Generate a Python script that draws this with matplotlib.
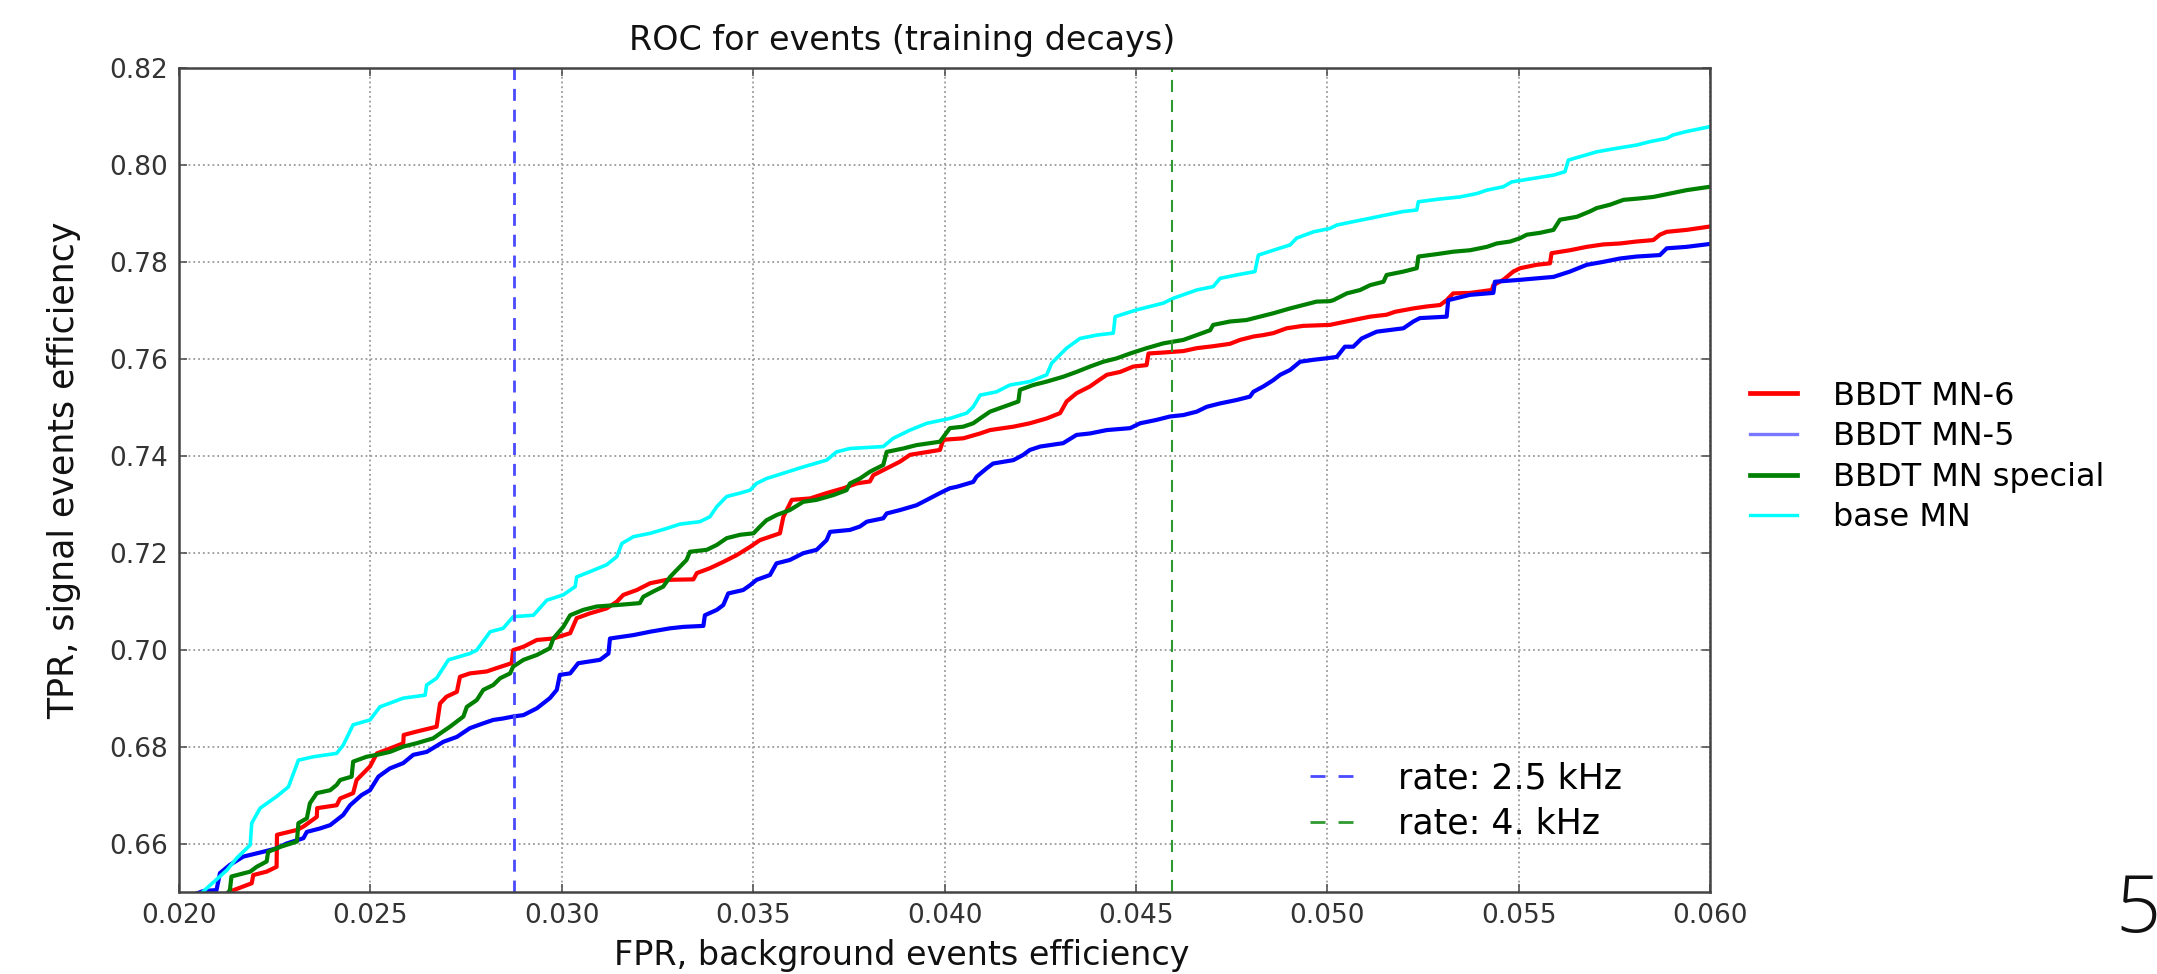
import numpy as np
import matplotlib
matplotlib.use('Agg')
import matplotlib.pyplot as plt
from matplotlib import font_manager
from matplotlib.lines import Line2D

# ROC points (FPR, TPR)
bbdt_mn6 = [(0.0211, 0.6490), (0.02133, 0.6501), (0.02190, 0.6518), (0.02194, 0.6535), (0.02229, 0.6542),
            (0.02255, 0.6552), (0.02256, 0.6618), (0.02308, 0.6628), (0.02325, 0.6635), (0.02360, 0.6655),
            (0.02361, 0.6673), (0.02412, 0.6679), (0.02421, 0.6693), (0.02455, 0.6704), (0.02464, 0.6731),
            (0.02499, 0.6759), (0.02517, 0.6786), (0.02551, 0.6796), (0.02586, 0.6807), (0.02587, 0.6824),
            (0.02621, 0.6831), (0.02673, 0.6841), (0.02682, 0.6889), (0.02699, 0.6903), (0.02726, 0.6913),
            (0.02734, 0.6944), (0.02760, 0.6951), (0.02804, 0.6955), (0.02830, 0.6962), (0.02869, 0.6972),
            (0.02873, 0.6999), (0.02900, 0.7006), (0.02935, 0.7020), (0.02978, 0.7023), (0.03022, 0.7034),
            (0.03039, 0.7065), (0.03074, 0.7075), (0.03117, 0.7085), (0.03144, 0.7099), (0.03161, 0.7113),
            (0.03196, 0.7123), (0.03231, 0.7137), (0.03274, 0.7144), (0.03344, 0.7145), (0.03353, 0.7158),
            (0.03387, 0.7168), (0.03422, 0.7181), (0.03457, 0.7195), (0.03492, 0.7212), (0.03518, 0.7226),
            (0.03570, 0.7240), (0.03579, 0.7274), (0.03601, 0.7309), (0.03649, 0.7312), (0.03692, 0.7323),
            (0.03736, 0.7333), (0.03771, 0.7343), (0.03805, 0.7347), (0.03814, 0.7360), (0.03849, 0.7374),
            (0.03884, 0.7388), (0.03910, 0.7402), (0.03988, 0.7412), (0.03997, 0.7433), (0.04049, 0.7436),
            (0.04093, 0.7446), (0.04119, 0.7453), (0.04180, 0.7460), (0.04223, 0.7467), (0.04267, 0.7477),
            (0.04302, 0.7488), (0.04319, 0.7512), (0.04345, 0.7529), (0.04380, 0.7543), (0.04398, 0.7553),
            (0.04424, 0.7567), (0.04459, 0.7573), (0.04493, 0.7584), (0.04528, 0.7587), (0.04533, 0.7611),
            (0.04572, 0.7613), (0.04624, 0.7616), (0.04659, 0.7622), (0.04702, 0.7626), (0.04746, 0.7631),
            (0.04772, 0.7639), (0.04807, 0.7646), (0.04833, 0.7649), (0.04859, 0.7653), (0.04894, 0.7663),
            (0.04937, 0.7668), (0.05007, 0.7670), (0.05025, 0.7673), (0.05068, 0.7680), (0.05112, 0.7687),
            (0.05155, 0.7691), (0.05177, 0.7697), (0.05225, 0.7704), (0.05260, 0.7708), (0.05295, 0.7711),
            (0.05312, 0.7721), (0.05329, 0.7735), (0.05373, 0.7736), (0.05430, 0.7742), (0.05434, 0.7752),
            (0.05460, 0.7763), (0.05486, 0.7780), (0.05504, 0.7787), (0.05547, 0.7794), (0.05582, 0.7797),
            (0.05586, 0.7818), (0.05634, 0.7824), (0.05678, 0.7831), (0.05721, 0.7836), (0.05765, 0.7838),
            (0.05808, 0.7842), (0.05852, 0.7845), (0.05869, 0.7856), (0.05887, 0.7862), (0.05939, 0.7866),
            (0.06000, 0.7873)]

bbdt_mn5 = [(0.0204, 0.6495), (0.02063, 0.6502), (0.02098, 0.6504), (0.02107, 0.6539), (0.02133, 0.6556),
            (0.02168, 0.6573), (0.02220, 0.6583), (0.02255, 0.6590), (0.02281, 0.6600), (0.02325, 0.6611),
            (0.02334, 0.6624), (0.02368, 0.6631), (0.02395, 0.6638), (0.02429, 0.6659), (0.02447, 0.6679),
            (0.02477, 0.6700), (0.02499, 0.6710), (0.02521, 0.6738), (0.02551, 0.6755), (0.02586, 0.6766),
            (0.02612, 0.6783), (0.02647, 0.6789), (0.02691, 0.6810), (0.02726, 0.6820), (0.02760, 0.6838),
            (0.02795, 0.6848), (0.02821, 0.6855), (0.02847, 0.6858), (0.02873, 0.6862), (0.02900, 0.6865),
            (0.02935, 0.6879), (0.02969, 0.6900), (0.02987, 0.6917), (0.02995, 0.6948), (0.03022, 0.6951),
            (0.03043, 0.6972), (0.03100, 0.6979), (0.03122, 0.6992), (0.03126, 0.7023), (0.03187, 0.7030),
            (0.03231, 0.7037), (0.03283, 0.7044), (0.03318, 0.7047), (0.03370, 0.7049), (0.03374, 0.7071),
            (0.03405, 0.7082), (0.03422, 0.7092), (0.03435, 0.7116), (0.03474, 0.7123), (0.03492, 0.7133),
            (0.03509, 0.7144), (0.03544, 0.7154), (0.03561, 0.7178), (0.03596, 0.7185), (0.03631, 0.7199),
            (0.03666, 0.7206), (0.03692, 0.7226), (0.03701, 0.7243), (0.03753, 0.7247), (0.03779, 0.7254),
            (0.03797, 0.7264), (0.03840, 0.7271), (0.03849, 0.7281), (0.03884, 0.7288), (0.03927, 0.7298),
            (0.03954, 0.7309), (0.03988, 0.7323), (0.04014, 0.7333), (0.04032, 0.7336), (0.04075, 0.7346),
            (0.04084, 0.7357), (0.04110, 0.7374), (0.04127, 0.7384), (0.04180, 0.7391), (0.04206, 0.7402),
            (0.04223, 0.7412), (0.04250, 0.7419), (0.04310, 0.7426), (0.04345, 0.7443), (0.04380, 0.7446),
            (0.04424, 0.7453), (0.04485, 0.7457), (0.04511, 0.7467), (0.04554, 0.7474), (0.04589, 0.7481),
            (0.04624, 0.7484), (0.04659, 0.7491), (0.04685, 0.7501), (0.04720, 0.7508), (0.04763, 0.7515),
            (0.04798, 0.7522), (0.04807, 0.7532), (0.04833, 0.7543), (0.04859, 0.7556), (0.04877, 0.7567),
            (0.04903, 0.7577), (0.04929, 0.7594), (0.04964, 0.7598), (0.05007, 0.7602), (0.05025, 0.7604),
            (0.05046, 0.7625), (0.05068, 0.7625), (0.05090, 0.7642), (0.05129, 0.7656), (0.05199, 0.7663),
            (0.05225, 0.7677), (0.05242, 0.7684), (0.05312, 0.7687), (0.05316, 0.7721), (0.05373, 0.7732),
            (0.05434, 0.7736), (0.05438, 0.7759), (0.05504, 0.7763), (0.05547, 0.7766), (0.05591, 0.7769),
            (0.05634, 0.7780), (0.05678, 0.7794), (0.05721, 0.7800), (0.05765, 0.7807), (0.05808, 0.7811),
            (0.05869, 0.7814), (0.05887, 0.7828), (0.05939, 0.7831), (0.06000, 0.7837)]

bbdt_mn_special = [(0.0212, 0.6490), (0.02133, 0.6504), (0.02137, 0.6532), (0.02186, 0.6542), (0.02203, 0.6552),
                   (0.02229, 0.6563), (0.02233, 0.6583), (0.02264, 0.6593), (0.02308, 0.6604), (0.02312, 0.6642),
                   (0.02334, 0.6652), (0.02342, 0.6683), (0.02360, 0.6704), (0.02395, 0.6710), (0.02412, 0.6721),
                   (0.02421, 0.6731), (0.02451, 0.6738), (0.02455, 0.6769), (0.02490, 0.6779), (0.02517, 0.6783),
                   (0.02551, 0.6789), (0.02586, 0.6800), (0.02621, 0.6807), (0.02664, 0.6817), (0.02682, 0.6827),
                   (0.02708, 0.6841), (0.02743, 0.6862), (0.02752, 0.6882), (0.02778, 0.6896), (0.02795, 0.6917),
                   (0.02821, 0.6927), (0.02839, 0.6941), (0.02865, 0.6951), (0.02873, 0.6965), (0.02900, 0.6979),
                   (0.02935, 0.6989), (0.02969, 0.7003), (0.02978, 0.7023), (0.03004, 0.7047), (0.03022, 0.7071),
                   (0.03056, 0.7082), (0.03091, 0.7089), (0.03144, 0.7092), (0.03204, 0.7096), (0.03213, 0.7109),
                   (0.03239, 0.7120), (0.03265, 0.7130), (0.03283, 0.7150), (0.03300, 0.7164), (0.03326, 0.7185),
                   (0.03335, 0.7202), (0.03379, 0.7206), (0.03405, 0.7216), (0.03431, 0.7230), (0.03466, 0.7237),
                   (0.03501, 0.7240), (0.03518, 0.7254), (0.03535, 0.7267), (0.03562, 0.7278), (0.03596, 0.7288),
                   (0.03631, 0.7305), (0.03666, 0.7309), (0.03710, 0.7319), (0.03744, 0.7329), (0.03753, 0.7343),
                   (0.03779, 0.7353), (0.03805, 0.7367), (0.03840, 0.7381), (0.03849, 0.7408), (0.03892, 0.7415),
                   (0.03927, 0.7422), (0.03988, 0.7429), (0.04014, 0.7457), (0.04049, 0.7460), (0.04075, 0.7467),
                   (0.04093, 0.7477), (0.04119, 0.7491), (0.04154, 0.7501), (0.04193, 0.7512), (0.04197, 0.7536),
                   (0.04232, 0.7546), (0.04267, 0.7553), (0.04310, 0.7563), (0.04345, 0.7573), (0.04380, 0.7584),
                   (0.04415, 0.7594), (0.04450, 0.7601), (0.04485, 0.7611), (0.04528, 0.7622), (0.04572, 0.7632),
                   (0.04624, 0.7639), (0.04659, 0.7649), (0.04694, 0.7659), (0.04702, 0.7670), (0.04746, 0.7677),
                   (0.04789, 0.7680), (0.04824, 0.7687), (0.04859, 0.7694), (0.04903, 0.7704), (0.04937, 0.7711),
                   (0.04972, 0.7718), (0.05007, 0.7719), (0.05016, 0.7721), (0.05051, 0.7735), (0.05086, 0.7742),
                   (0.05112, 0.7752), (0.05147, 0.7759), (0.05155, 0.7773), (0.05199, 0.7780), (0.05234, 0.7787),
                   (0.05238, 0.7811), (0.05286, 0.7816), (0.05329, 0.7821), (0.05373, 0.7824), (0.05417, 0.7831),
                   (0.05443, 0.7838), (0.05478, 0.7842), (0.05504, 0.7849), (0.05521, 0.7856), (0.05556, 0.7860),
                   (0.05591, 0.7866), (0.05608, 0.7887), (0.05652, 0.7893), (0.05686, 0.7904), (0.05704, 0.7911),
                   (0.05739, 0.7918), (0.05774, 0.7928), (0.05817, 0.7931), (0.05852, 0.7934), (0.05896, 0.7941),
                   (0.05939, 0.7948), (0.06000, 0.7955)]

base_mn = [(0.0205, 0.6490), (0.02063, 0.6501), (0.02125, 0.6545), (0.02151, 0.6570), (0.02186, 0.6597),
           (0.02190, 0.6642), (0.02212, 0.6673), (0.02255, 0.6697), (0.02286, 0.6717), (0.02312, 0.6772),
           (0.02351, 0.6779), (0.02412, 0.6786), (0.02429, 0.6803), (0.02455, 0.6845), (0.02499, 0.6855),
           (0.02525, 0.6882), (0.02586, 0.6900), (0.02643, 0.6906), (0.02647, 0.6927), (0.02673, 0.6941),
           (0.02704, 0.6979), (0.02760, 0.6992), (0.02778, 0.6999), (0.02813, 0.7037), (0.02847, 0.7044),
           (0.02873, 0.7068), (0.02926, 0.7071), (0.02961, 0.7102), (0.03004, 0.7113), (0.03035, 0.7130),
           (0.03039, 0.7150), (0.03074, 0.7161), (0.03117, 0.7175), (0.03144, 0.7192), (0.03157, 0.7219),
           (0.03187, 0.7233), (0.03231, 0.7240), (0.03274, 0.7250), (0.03309, 0.7259), (0.03361, 0.7264),
           (0.03387, 0.7274), (0.03405, 0.7295), (0.03431, 0.7316), (0.03466, 0.7323), (0.03492, 0.7329),
           (0.03509, 0.7343), (0.03535, 0.7353), (0.03579, 0.7364), (0.03631, 0.7377), (0.03692, 0.7391),
           (0.03718, 0.7408), (0.03753, 0.7415), (0.03840, 0.7419), (0.03866, 0.7436), (0.03910, 0.7453),
           (0.03954, 0.7467), (0.04014, 0.7477), (0.04058, 0.7488), (0.04075, 0.7501), (0.04093, 0.7525),
           (0.04136, 0.7532), (0.04171, 0.7546), (0.04223, 0.7553), (0.04267, 0.7567), (0.04280, 0.7591),
           (0.04319, 0.7622), (0.04354, 0.7642), (0.04398, 0.7649), (0.04441, 0.7653), (0.04446, 0.7687),
           (0.04502, 0.7701), (0.04572, 0.7715), (0.04598, 0.7725), (0.04659, 0.7742), (0.04702, 0.7749),
           (0.04720, 0.7766), (0.04763, 0.7773), (0.04811, 0.7780), (0.04820, 0.7814), (0.04859, 0.7824),
           (0.04903, 0.7835), (0.04920, 0.7849), (0.04964, 0.7862), (0.05007, 0.7869), (0.05025, 0.7876),
           (0.05068, 0.7883), (0.05112, 0.7890), (0.05155, 0.7897), (0.05199, 0.7904), (0.05234, 0.7907),
           (0.05238, 0.7924), (0.05286, 0.7929), (0.05347, 0.7934), (0.05391, 0.7941), (0.05417, 0.7948),
           (0.05460, 0.7955), (0.05482, 0.7965), (0.05521, 0.7970), (0.05591, 0.7979), (0.05621, 0.7986),
           (0.05630, 0.8010), (0.05660, 0.8017), (0.05704, 0.8027), (0.05739, 0.8032), (0.05808, 0.8041),
           (0.05843, 0.8048), (0.05887, 0.8055), (0.05904, 0.8062), (0.05939, 0.8069), (0.06000, 0.8079)]

labels = ['BBDT MN-6', 'BBDT MN-5', 'BBDT MN special', 'base MN']
rate_fpr = [0.02875, 0.04594]
rate_labels = ['rate: 2.5 kHz', 'rate: 4. kHz']
xticks = [0.020, 0.025, 0.030, 0.035, 0.040, 0.045, 0.050, 0.055, 0.060]
yticks = [0.66, 0.68, 0.70, 0.72, 0.74, 0.76, 0.78, 0.80, 0.82]

W, H = 2157, 974
fig = plt.figure(figsize=(W / 100, H / 100), dpi=100)
ax = fig.add_axes([179 / W, 82 / H, 1531 / W, 824 / H])

curves = [(bbdt_mn6, 'red', 3.0), (bbdt_mn5, 'blue', 3.0),
          (bbdt_mn_special, 'green', 3.0), (base_mn, 'cyan', 2.6)]
for pts, col, lw in curves:
    a = np.array(pts)
    ax.plot(a[:, 0], a[:, 1], color=col, lw=lw)

ax.axvline(rate_fpr[0], color='#4a4aff', lw=2.0, dashes=(4.3, 3.2))
ax.axvline(rate_fpr[1], color='#2f9a2f', lw=1.5, dashes=(5.8, 3.8))

ax.set_xlim(0.02, 0.06)
ax.set_ylim(0.65, 0.82)
ax.set_xticks(xticks)
ax.set_yticks(yticks)
ax.set_xticklabels(['%.3f' % t for t in xticks])
ax.set_yticklabels(['%.2f' % t for t in yticks])
ax.tick_params(direction='in', top=True, right=True, length=6, width=1.2,
               color='#555555', labelsize=19, labelcolor='#333333', pad=8)
ax.grid(True, linestyle=':', color='#9a9a9a', linewidth=1.3)
for s in ax.spines.values():
    s.set_color('#444444')
    s.set_linewidth(1.8)

names = {f.name for f in font_manager.fontManager.ttflist}
if 'Liberation Sans Narrow' in names:
    ylab_font, ylab_size = 'Liberation Sans Narrow', 33
else:
    ylab_font, ylab_size = 'DejaVu Sans', 25
ax.set_ylabel('TPR, signal events efficiency', family=ylab_font, fontsize=ylab_size,
              va='center', color='#111111')
ax.yaxis.set_label_coords(-0.0751, 0.512)

ax.set_xlabel('FPR, background events efficiency', fontsize=24, va='baseline', color='#111111')
ax.xaxis.set_label_coords(723 / 1531, -73 / 824)

fig.text(902 / W, 1 - 50 / H, 'ROC for events (training decays)', ha='center', va='baseline',
         fontsize=24, color='#111111')

handles = [Line2D([], [], color='red', lw=3.4), Line2D([], [], color='#7777ff', lw=2.4),
           Line2D([], [], color='green', lw=3.4), Line2D([], [], color='cyan', lw=2.4)]
fig.legend(handles, labels, loc='center left', bbox_to_anchor=(1750 / W, 1 - 457 / H),
           frameon=False, fontsize=23, handlelength=1.47, handletextpad=1.13,
           labelspacing=0.30, borderpad=0, borderaxespad=0)

rate_handles = [Line2D([], [], color='#4a4aff', lw=2.0, dashes=(5.4, 4.7)),
                Line2D([], [], color='#2f9a2f', lw=2.0, dashes=(5.4, 4.7))]
ax.legend(rate_handles, rate_labels, loc='center left', bbox_to_anchor=(1310 / W, 1 - 801 / H),
          bbox_transform=fig.transFigure, frameon=False, fontsize=25, handlelength=1.24,
          handletextpad=1.3, labelspacing=0.33, borderpad=0, borderaxespad=0)

fig.text(2138 / W, 1 - 932 / H, '5', ha='center', va='baseline', fontsize=57,
         family=['Open Sans', 'DejaVu Sans'], fontweight='light', color='#111111')

fig.savefig('out.png', dpi=100)
